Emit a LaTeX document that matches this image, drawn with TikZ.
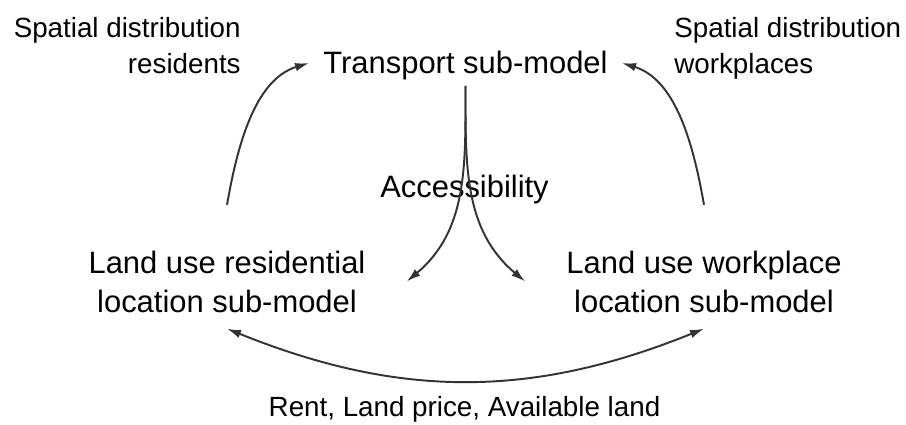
\documentclass[tikz,border=0pt]{standalone}
\usepackage{fontspec}
\setmainfont{Liberation Sans}
\usetikzlibrary{arrows.meta}

\begin{document}
\begin{tikzpicture}[
  model/.style={inner sep=0pt, align=center, font=\fontsize{17.6}{22.2}\selectfont},
  side/.style={inner sep=0pt, font=\fontsize{15.8}{20.5}\selectfont},
  flow/.style={draw=black!80, line width=1.1pt, -{Latex[length=0.28cm,width=0.17cm]}},
  twoway/.style={flow, {Latex[length=0.28cm,width=0.17cm]}-{Latex[length=0.28cm,width=0.17cm]}}
]

\useasboundingbox (0,0) rectangle (18.12,8.5);

\node[model, inner xsep=0.28cm, inner ysep=0.1cm, anchor=base] (transport) at (9.31, 7.02) {Transport sub-model};

\node[model, anchor=base] (access) at (9.29, 4.54) {Accessibility};

\node[model] (resid) at (4.54, 2.87) {Land use residential\\location sub-model};

\node[model] (work) at (14.08, 2.87) {Land use workplace\\location sub-model};

\node[side, anchor=base] (rent) at (9.29, 0.16) {Rent, Land price, Available land};

\node[side, align=right, anchor=north east] (sdres) at (4.82, 8.16) {Spatial distribution\\residents};

\node[side, align=left, anchor=north west] (sdwork) at (13.48, 8.16) {Spatial distribution\\workplaces};


\draw[flow] ([yshift=0.91cm]resid.north) to[out=80, in=197, looseness=0.9] ([yshift=0.06cm]transport.west);

\draw[flow] ([yshift=0.91cm]work.north) to[out=100, in=-17, looseness=0.9] ([yshift=0.06cm]transport.east);

\draw[flow] (transport.south) to[out=-90, in=40] ([xshift=0.82cm]resid.east);

\draw[flow] (transport.south) to[out=-90, in=140] ([xshift=-0.82cm]work.west);

\draw[twoway] ([yshift=-0.32cm]resid.south) to[out=-22, in=202] ([yshift=-0.32cm]work.south);

\end{tikzpicture}
\end{document}
